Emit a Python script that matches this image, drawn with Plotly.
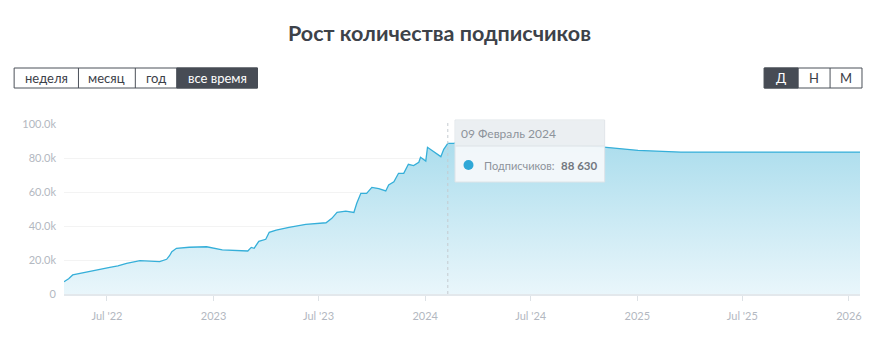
import plotly.graph_objects as go

# ---------------- data ----------------
dates = [
    "2022-04-18", "2022-04-26", "2022-05-03", "2022-05-18", "2022-06-01", "2022-06-20",
    "2022-07-06", "2022-07-20", "2022-08-04", "2022-08-27", "2022-09-12", "2022-09-30",
    "2022-10-12", "2022-10-17", "2022-10-21", "2022-10-29", "2022-11-20", "2022-12-20",
    "2023-01-16", "2023-02-05", "2023-03-01", "2023-03-07", "2023-03-12", "2023-03-20",
    "2023-04-01", "2023-04-07", "2023-04-19", "2023-05-11", "2023-06-09", "2023-07-14",
    "2023-07-24", "2023-08-02", "2023-08-17", "2023-08-31", "2023-09-05", "2023-09-12",
    "2023-09-22", "2023-10-01", "2023-10-13", "2023-10-25", "2023-10-30", "2023-11-08",
    "2023-11-16", "2023-11-25", "2023-12-03", "2023-12-12", "2023-12-21", "2023-12-24",
    "2024-01-02", "2024-01-05", "2024-01-28", "2024-02-02", "2024-02-09", "2024-02-19",
    "2024-03-16", "2024-04-11", "2024-05-06", "2024-07-14", "2024-10-26", "2025-01-02",
    "2025-03-17", "2025-07-01", "2025-10-01", "2026-01-20",
]
subscribers = [
    7200, 9000, 11200, 12300, 13500, 14600,
    15700, 16600, 18000, 19600, 19300, 19000,
    20400, 22500, 24900, 26900, 27500, 27800,
    26000, 25700, 25300, 27400, 26900, 31000,
    32200, 36300, 37600, 39200, 41000, 41900,
    44500, 48000, 48800, 48000, 53400, 59200,
    59200, 62700, 62000, 60600, 64100, 66000,
    71000, 71000, 76300, 75500, 77500, 80400,
    78200, 86300, 80800, 85100, 88630, 88600,
    90500, 92500, 89600, 88500, 86700, 84500,
    83500, 83500, 83500, 83500,
]

y_tick_vals = [0, 20000, 40000, 60000, 80000, 100000]
y_tick_text = ["0", "20.0k", "40.0k", "60.0k", "80.0k", "100.0k"]
x_tick_vals = ["2022-07-01", "2023-01-01", "2023-07-01", "2024-01-01",
               "2024-07-01", "2025-01-01", "2025-07-01", "2026-01-01"]
x_tick_text = ["Jul '22", "2023", "Jul '23", "2024", "Jul '24", "2025", "Jul '25", "2026"]
x_range = ["2022-04-18", "2026-01-20"]

title_text = "Рост количества подписчиков"
period_buttons = ["неделя", "месяц", "год", "все время"]
scale_buttons = ["Д", "Н", "М"]
hover_date = "2024-02-09"
hover_label = "09 Февраль 2024"
hover_series = "Подписчиков:"
hover_value_text = "88 630"

# ---------------- layout helpers ----------------
W, H = 872, 344
L, R, T, B = 64, 10, 124, 50
PW, PH = W - L - R, H - T - B


def px(x):
    return (x - L) / PW


def py(y):
    return (T + PH - y) / PH


FONT = "Lato"
LINE = "#35afd9"
DARK = "#474c55"

fig = go.Figure()
fig.add_trace(go.Scatter(
    x=dates, y=subscribers, mode="lines",
    line=dict(color=LINE, width=1.3),
    fill="tozeroy",
    fillgradient=dict(type="vertical", start=0, stop=100000,
                      colorscale=[[0, "#e9f6fb"], [1, "#a4daeb"]]),
    hoverinfo="skip", showlegend=False,
))

shapes = []
annotations = []

# title
annotations.append(dict(text=f"<b>{title_text}</b>", x=px(440), y=py(33), xref="paper", yref="paper",
                        showarrow=False, xanchor="center", yanchor="middle",
                        font=dict(family=FONT, size=21.5, color="#3d4249")))

# period buttons (left)
lb = [14, 78.5, 135.5, 177, 258]
shapes.append(dict(type="rect", xref="paper", yref="paper", x0=px(lb[0]), x1=px(lb[-1]),
                   y0=py(88), y1=py(68), fillcolor="white", line=dict(color="#4b5059", width=1), layer="above"))
shapes.append(dict(type="rect", xref="paper", yref="paper", x0=px(lb[3]), x1=px(lb[4]),
                   y0=py(88), y1=py(68), fillcolor=DARK, line=dict(color=DARK, width=1), layer="above"))
for d in lb[1:3]:
    shapes.append(dict(type="line", xref="paper", yref="paper", x0=px(d), x1=px(d),
                       y0=py(88), y1=py(68), line=dict(color="#4b5059", width=1), layer="above"))
for i, t in enumerate(period_buttons):
    cx = (lb[i] + lb[i + 1]) / 2
    annotations.append(dict(text=t, x=px(cx), y=py(78), xref="paper", yref="paper", showarrow=False,
                            xanchor="center", yanchor="middle",
                            font=dict(family=FONT, size=13, color="white" if i == 3 else "#3c4048")))

# scale buttons (right)
rb = [766, 800, 832, 864]
shapes.append(dict(type="rect", xref="paper", yref="paper", x0=px(rb[0]), x1=px(rb[-1]),
                   y0=py(88), y1=py(68), fillcolor="white", line=dict(color="#4b5059", width=1), layer="above"))
shapes.append(dict(type="rect", xref="paper", yref="paper", x0=px(rb[0]), x1=px(rb[1]),
                   y0=py(88), y1=py(68), fillcolor=DARK, line=dict(color=DARK, width=1), layer="above"))
shapes.append(dict(type="line", xref="paper", yref="paper", x0=px(rb[2]), x1=px(rb[2]),
                   y0=py(88), y1=py(68), line=dict(color="#4b5059", width=1), layer="above"))
for i, t in enumerate(scale_buttons):
    cx = (rb[i] + rb[i + 1]) / 2
    annotations.append(dict(text=t, x=px(cx), y=py(78), xref="paper", yref="paper", showarrow=False,
                            xanchor="center", yanchor="middle",
                            font=dict(family=FONT, size=13, color="white" if i == 0 else "#3c4048")))

# hover crosshair
shapes.append(dict(type="line", xref="x", yref="paper", x0=hover_date, x1=hover_date,
                   y0=0, y1=1.02, line=dict(color="#c5cbd1", width=1, dash="dot"), layer="above"))

# tooltip
shapes.append(dict(type="rect", xref="paper", yref="paper", x0=px(456), x1=px(606),
                   y0=py(182), y1=py(120), fillcolor="rgba(246,249,251,0.93)",
                   line=dict(color="#dfe4e8", width=1), layer="above"))
shapes.append(dict(type="rect", xref="paper", yref="paper", x0=px(456.5), x1=px(605.5),
                   y0=py(146), y1=py(120.5), fillcolor="rgba(234,238,241,0.93)",
                   line=dict(width=0), layer="above"))
shapes.append(dict(type="line", xref="paper", yref="paper", x0=px(456.5), x1=px(605.5),
                   y0=py(146), y1=py(146), line=dict(color="#dde2e6", width=1), layer="above"))
shapes.append(dict(type="circle", xref="paper", yref="paper", x0=px(464.5), x1=px(474.5),
                   y0=py(170), y1=py(160), fillcolor="#2fa8d7", line=dict(width=0), layer="above"))
annotations.append(dict(text=hover_label, x=px(460), y=py(133), xref="paper", yref="paper",
                        showarrow=False, xanchor="left", yanchor="middle",
                        font=dict(family=FONT, size=12, color="#8d939b")))
annotations.append(dict(text=hover_series, x=px(483), y=py(165), xref="paper", yref="paper",
                        showarrow=False, xanchor="left", yanchor="middle",
                        font=dict(family=FONT, size=11, color="#8d939b")))
annotations.append(dict(text=f"<b>{hover_value_text}</b>", x=px(560), y=py(165), xref="paper", yref="paper",
                        showarrow=False, xanchor="left", yanchor="middle",
                        font=dict(family=FONT, size=11.5, color="#727880")))

tick_font = dict(family=FONT, size=11, color="#b3b8c1")
fig.update_layout(
    width=W, height=H,
    margin=dict(l=L, r=R, t=T, b=B, pad=0),
    paper_bgcolor="white", plot_bgcolor="white",
    shapes=shapes, annotations=annotations,
    hovermode=False, showlegend=False,
    xaxis=dict(type="date", range=x_range, tickvals=x_tick_vals, ticktext=x_tick_text,
               showgrid=False, zeroline=False, showline=True, linecolor="#e3e8ec", linewidth=2,
               ticks="outside", ticklen=5, tickcolor="#dde2e6", tickfont=tick_font,
               ticklabelstandoff=6),
    yaxis=dict(range=[0, 100000], tickvals=y_tick_vals, ticktext=y_tick_text,
               showgrid=True, gridcolor="#f3f3f3", zeroline=False, showline=False,
               ticks="", tickfont=tick_font, ticklabelstandoff=7),
)

fig.write_html("out.html")
